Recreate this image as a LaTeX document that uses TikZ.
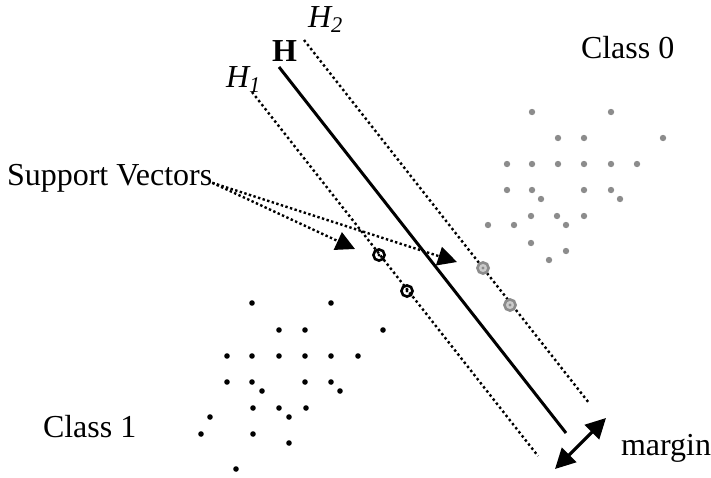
\documentclass[tikz,border=0pt]{standalone}
\usepackage{fontspec}
\setmainfont{Liberation Serif}
\usetikzlibrary{arrows.meta}
\definecolor{dotgray}{gray}{0.55}
\tikzset{
  lbl/.style={font=\fontsize{16}{18}\selectfont, inner sep=0pt, outer sep=0pt},
  hyper/.style={line width=1.2pt, dash pattern=on 1.2pt off 1.4pt},
  svmark/.style={circle, draw=#1, line width=1.3pt, minimum size=5.6pt, inner sep=0pt},
  svarrow/.style={line width=1.2pt, dash pattern=on 1.2pt off 1.2pt, -{Triangle[length=9.5pt, width=9.5pt]}}
}
\begin{document}
\begin{tikzpicture}[x=0.5pt, y=-0.5pt]
  \useasboundingbox (0,0) rectangle (711,477);
  % labels
  \node[lbl, anchor=base west] (svlabel) at (7,185) {Support Vectors};
  \node[lbl, anchor=base west] (class0) at (581,58) {Class 0};
  \node[lbl, anchor=base west] (class1) at (43,437) {Class 1};
  \node[lbl, anchor=base west] (marginlabel) at (621,455) {margin};
  \node[lbl, anchor=base west] (hlabel) at (272,61) {\textbf{H}};
  \node[lbl, anchor=base west] (h1label) at (226,87) {\textit{H\textsubscript{1}}};
  \node[lbl, anchor=base west] (h2label) at (308,27) {\textit{H\textsubscript{2}}};
  % hyperplanes
  \coordinate (h0a) at (279,67);   \coordinate (h0b) at (566,433);
  \coordinate (h1a) at (252,92);   \coordinate (h1b) at (538,456);
  \coordinate (h2a) at (304,40);   \coordinate (h2b) at (589,403);
  \draw[line width=1.5pt] (h0a) -- (h0b);
  \draw[hyper] (h1a) -- (h1b);
  \draw[hyper] (h2a) -- (h2b);
  % class 0
  \foreach \x/\y in {532/112, 611/112, 558/138, 584/138, 663/138,
                     507/164, 532/164, 558/164, 584/164, 611/164, 637/164,
                     507/190, 532/190, 541/199, 584/190, 611/190, 620/199,
                     531/216, 557/216, 584/216, 566/225, 488/225, 514/225,
                     531/243, 566/251, 549/260} {
    \fill[dotgray] (\x,\y) circle (1.6pt);
  }
  % class 1
  \foreach \x/\y in {252/303, 331/303, 279/330, 305/330, 383/330,
                     227/356, 252/356, 279/356, 305/356, 331/356, 358/356,
                     227/382, 252/382, 262/391, 305/382, 331/382, 340/391,
                     253/408, 279/408, 306/408, 289/417, 210/417, 201/434,
                     253/434, 289/443, 236/469} {
    \fill[black] (\x,\y) circle (1.4pt);
  }
  % support vectors
  \node[svmark=black] (sv1) at (379,255) {};
  \node[svmark=black] (sv2) at (407,291) {};
  \node[svmark=dotgray, fill=dotgray!45] (sv3) at (483,268) {};
  \node[svmark=dotgray, fill=dotgray!45] (sv4) at (510,305) {};
  \foreach \s/\col in {sv1/black, sv2/black, sv3/dotgray, sv4/dotgray} {
    \fill[\col] (\s) circle (0.8pt);
  }
  % pointers
  \coordinate (svtipa) at (355,249);
  \coordinate (svtipb) at (457,262);
  \draw[svarrow] ([yshift=-2.5pt]svlabel.east) -- (svtipa);
  \draw[svarrow] ([yshift=-2.5pt]svlabel.east) -- (svtipb);
  % margin
  \coordinate (mtail) at (555,469);
  \coordinate (mhead) at (606,418);
  \draw[line width=1.6pt, {Triangle[length=10pt, width=10pt]}-{Triangle[length=10pt, width=10pt]}] (mtail) -- (mhead);
\end{tikzpicture}
\end{document}
